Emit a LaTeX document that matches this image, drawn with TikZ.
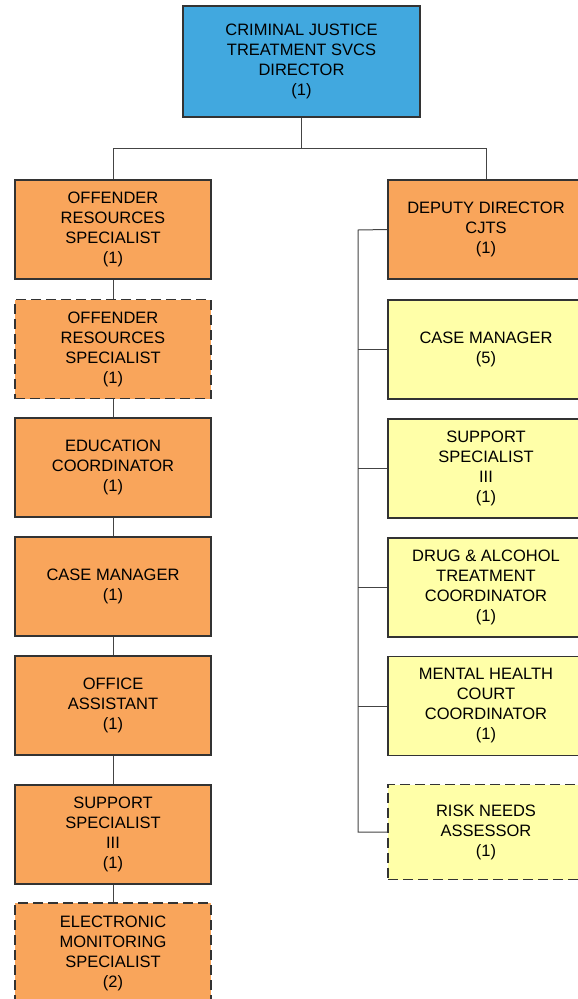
\documentclass[tikz,border=0pt]{standalone}
\usepackage{fontspec}
\setmainfont{Liberation Sans}
\definecolor{dirblue}{HTML}{41A8DF}
\definecolor{boxorange}{HTML}{F9A55B}
\definecolor{boxyellow}{HTML}{FFFFA8}
\definecolor{edge}{HTML}{333333}
\definecolor{wire}{HTML}{444444}
\begin{document}
\begin{tikzpicture}[x=1pt,y=-1pt,
  box/.style={draw=edge,line width=1.4pt,rectangle,inner sep=0pt,align=center,
    minimum width=196pt,minimum height=99pt,font=\fontsize{16.5}{20}\selectfont},
  orangebox/.style={box,fill=boxorange},
  yellowbox/.style={box,fill=boxyellow},
  dashedbox/.style={dash pattern=on 10pt off 5pt},
  wireline/.style={draw=wire,line width=1pt}]
\useasboundingbox (0,0) rectangle (578,999);
\clip (0,0) rectangle (578,999);
% director
\node[box,fill=dirblue,minimum width=237pt,minimum height=111pt] (dir) at (301.5,61.5)
  {CRIMINAL JUSTICE\\TREATMENT SVCS\\DIRECTOR\\(1)};
% left column
\node[orangebox] (l1) at (113,229.5) {OFFENDER\\RESOURCES\\SPECIALIST\\(1)};
\node[orangebox,dashedbox] (l2) at (113,349) {OFFENDER\\RESOURCES\\SPECIALIST\\(1)};
\node[orangebox] (l3) at (113,467.5) {EDUCATION\\COORDINATOR\\(1)};
\node[orangebox] (l4) at (113,586.5) {CASE MANAGER\\(1)};
\node[orangebox] (l5) at (113,705.5) {OFFICE\\ASSISTANT\\(1)};
\node[orangebox] (l6) at (113,834.5) {SUPPORT\\SPECIALIST\\III\\(1)};
\node[orangebox,dashedbox,minimum height=101pt] (l7) at (113,953.5) {ELECTRONIC\\MONITORING\\SPECIALIST\\(2)};
% right column
\node[orangebox] (r0) at (486,229.5) {DEPUTY DIRECTOR\\CJTS\\(1)};
\node[yellowbox] (r1) at (486,349.5) {CASE MANAGER\\(5)};
\node[yellowbox] (r2) at (486,468.5) {SUPPORT\\SPECIALIST\\III\\(1)};
\node[yellowbox] (r3) at (486,587.5) {DRUG \& ALCOHOL\\TREATMENT\\COORDINATOR\\(1)};
\node[yellowbox] (r4) at (486,706) {MENTAL HEALTH\\COURT\\COORDINATOR\\(1)};
\node[yellowbox,dashedbox,minimum height=95pt] (r5) at (486,832) {RISK NEEDS\\ASSESSOR\\(1)};
% connectors
\coordinate (bus) at (301.5,148);
\draw[wireline] (dir.south) -- (bus);
\draw[wireline] (bus) -| (l1.north);
\draw[wireline] (bus) -| (r0.north);
\draw[wireline] (l1) -- (l2) -- (l3) -- (l4) -- (l5) -- (l6) -- (l7);
\coordinate (rb) at (358,230);
\draw[wireline] (r0.west) -- (rb) |- (r5.west);
\foreach \n in {r1,r2,r3,r4}{
  \draw[wireline] (\n.west) -- (rb |- \n.west);
}
\end{tikzpicture}
\end{document}
